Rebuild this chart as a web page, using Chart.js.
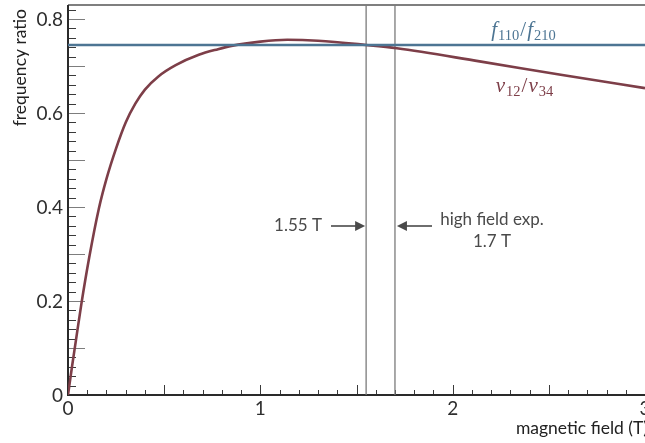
<!DOCTYPE html>
<html>
<head>
<meta charset="utf-8">
<script src="https://cdn.jsdelivr.net/npm/chart.js@4.4.1/dist/chart.umd.min.js"></script>
<style>
  html, body { margin: 0; padding: 0; background: #fff; overflow: hidden; }
  #wrap { width: 645px; height: 443px; position: relative; }
</style>
</head>
<body>
<div id="wrap"><canvas id="chart" width="645" height="443"></canvas></div>
<script>
// magnetic field (T) and nu12/nu34 ratio
const field   = [0, 0.02, 0.04, 0.07, 0.11, 0.16, 0.2, 0.25, 0.3, 0.35, 0.4, 0.47, 0.56, 0.68, 0.78, 0.85, 1.0, 1.14, 1.3, 1.55, 1.71, 2.14, 2.57, 3.0];
const nuRatio = [0, 0.058, 0.113, 0.195, 0.292, 0.396, 0.46, 0.525, 0.58, 0.62, 0.65, 0.678, 0.702, 0.724, 0.736, 0.743, 0.752, 0.756, 0.754, 0.745, 0.738, 0.710, 0.681, 0.653];

// f110/f210 is constant over the range
const fField = [0, 3];
const fRatio = [0.745, 0.745];

// marker lines: 1.55 T crossing and high field exp. 1.7 T
const markers = [1.55, 1.7];

const xTicks = [0, 1, 2, 3];
const yTicks = [0, 0.2, 0.4, 0.6, 0.8];

const RED = '#7d3e48';
const BLUE = '#4d7593';
const FONT = 'Lato, "Open Sans", sans-serif';

const toPts = (xs, ys) => xs.map((x, i) => ({ x: x, y: ys[i] }));

const markerSets = markers.map(m => ({
  data: [{ x: m, y: 0 }, { x: m, y: 0.83 }],
  borderColor: '#7a7a7a',
  borderWidth: 1.3,
  pointRadius: 0,
  order: 3
}));

// frame, inward ticks, labels and annotations
const decor = {
  id: 'decor',
  beforeDatasetsDraw(chart) {
    const { ctx, chartArea: a, scales: { x, y } } = chart;
    ctx.save();
    // top border
    ctx.strokeStyle = '#555';
    ctx.lineWidth = 1.5;
    ctx.beginPath();
    ctx.moveTo(a.left, a.top);
    ctx.lineTo(a.right, a.top);
    ctx.stroke();

    // y ticks every 0.02, longer every 0.1
    for (let i = 0; i <= 41; i++) {
      const py = Math.round(y.getPixelForValue(i * 0.02)) + 0.5;
      const long = i % 5 === 0;
      ctx.strokeStyle = long ? '#7d7d7d' : '#3a3a3a';
      ctx.lineWidth = 1;
      ctx.beginPath();
      ctx.moveTo(a.left, py);
      ctx.lineTo(a.left + (long ? 17 : 8), py);
      ctx.stroke();
    }
    // x ticks every 0.1
    for (let i = 0; i <= 30; i++) {
      const px = Math.round(x.getPixelForValue(i * 0.1)) + 0.5;
      ctx.strokeStyle = '#3a3a3a';
      ctx.lineWidth = 1;
      ctx.beginPath();
      ctx.moveTo(px, a.bottom);
      ctx.lineTo(px, a.bottom - (i % 5 === 0 ? 10 : 5));
      ctx.stroke();
    }

    // axis lines
    ctx.strokeStyle = '#2a2a2a';
    ctx.lineWidth = 2;
    ctx.beginPath();
    ctx.moveTo(a.left, a.top);
    ctx.lineTo(a.left, a.bottom);
    ctx.lineTo(a.right, a.bottom);
    ctx.stroke();
    ctx.restore();
  },
  afterDraw(chart) {
    const { ctx, chartArea: a, scales: { x, y } } = chart;
    ctx.save();
    ctx.fillStyle = '#2e2e2e';
    ctx.font = '19px ' + FONT;

    // y tick labels
    ctx.textAlign = 'right';
    ctx.textBaseline = 'middle';
    yTicks.forEach(v => {
      ctx.fillText(v === 0 ? '0' : v.toFixed(1), a.left - 5, y.getPixelForValue(v) + 1);
    });
    // x tick labels
    ctx.textAlign = 'center';
    xTicks.forEach(v => {
      ctx.fillText(String(v), x.getPixelForValue(v), a.bottom + 14);
    });

    // axis titles
    ctx.fillStyle = '#222';
    ctx.font = '17.5px ' + FONT;
    ctx.textAlign = 'right';
    ctx.fillText('magnetic field (T)', 648, 428);
    ctx.save();
    ctx.translate(20, 9);
    ctx.rotate(-Math.PI / 2);
    ctx.textAlign = 'right';
    ctx.fillText('frequency ratio', 0, 0);
    ctx.restore();

    // annotation arrows
    const ay = 226;
    const x1 = x.getPixelForValue(markers[0]);
    const x2 = x.getPixelForValue(markers[1]);
    ctx.fillStyle = '#4a4a4a';
    ctx.strokeStyle = '#4a4a4a';
    ctx.lineWidth = 1.6;
    ctx.font = '17px ' + FONT;
    ctx.textAlign = 'right';
    ctx.fillText('1.55 T', 322, ay);
    ctx.beginPath();
    ctx.moveTo(331, ay);
    ctx.lineTo(x1 - 9, ay);
    ctx.stroke();
    ctx.beginPath();
    ctx.moveTo(x1 - 1, ay);
    ctx.lineTo(x1 - 11, ay - 5);
    ctx.lineTo(x1 - 11, ay + 5);
    ctx.closePath();
    ctx.fill();

    ctx.beginPath();
    ctx.moveTo(432, ay);
    ctx.lineTo(x2 + 10, ay);
    ctx.stroke();
    ctx.beginPath();
    ctx.moveTo(x2 + 2, ay);
    ctx.lineTo(x2 + 12, ay - 5);
    ctx.lineTo(x2 + 12, ay + 5);
    ctx.closePath();
    ctx.fill();

    ctx.textAlign = 'center';
    ctx.fillText('high field exp.', 492, 220);
    ctx.fillText('1.7 T', 492, 242);

    // math labels
    mathLabel(ctx, [['f', '110'], ['/'], ['f', '210']], 524, 30, BLUE);
    mathLabel(ctx, [['\u03BD', '12'], ['/'], ['\u03BD', '34']], 525, 86, RED);
    ctx.restore();
  }
};

function mathLabel(ctx, parts, cx, cy, color) {
  const main = 'italic 21px "Liberation Serif", serif';
  const sub = '14.5px "Liberation Serif", serif';
  const slash = '21px "Liberation Serif", serif';
  let w = 0;
  const pieces = [];
  parts.forEach(p => {
    if (p[0] === '/') {
      ctx.font = slash;
      pieces.push({ t: '/', f: slash, dy: 0, w: ctx.measureText('/').width + 1 });
    } else {
      ctx.font = main;
      pieces.push({ t: p[0], f: main, dy: 0, w: ctx.measureText(p[0]).width + 1 });
      ctx.font = sub;
      pieces.push({ t: p[1], f: sub, dy: 4, w: ctx.measureText(p[1]).width + 1 });
    }
  });
  pieces.forEach(p => { w += p.w; });
  let px = cx - w / 2;
  ctx.fillStyle = color;
  ctx.textAlign = 'left';
  ctx.textBaseline = 'alphabetic';
  pieces.forEach(p => {
    ctx.font = p.f;
    ctx.fillText(p.t, px, cy + 6 + p.dy);
    px += p.w;
  });
}

new Chart(document.getElementById('chart'), {
  type: 'line',
  data: {
    datasets: [
      {
        data: toPts(field, nuRatio),
        borderColor: RED,
        borderWidth: 2.6,
        pointRadius: 0,
        cubicInterpolationMode: 'monotone',
        order: 2
      },
      {
        data: toPts(fField, fRatio),
        borderColor: BLUE,
        borderWidth: 2.6,
        pointRadius: 0,
        order: 1
      },
      ...markerSets
    ]
  },
  options: {
    responsive: false,
    animation: false,
    events: [],
    layout: { padding: { left: 68, right: 0, top: 5, bottom: 48 } },
    plugins: {
      legend: { display: false },
      tooltip: { enabled: false }
    },
    scales: {
      x: { type: 'linear', min: 0, max: 3, display: false },
      y: { min: 0, max: 0.83, display: false }
    }
  },
  plugins: [decor]
});
</script>
</body>
</html>
